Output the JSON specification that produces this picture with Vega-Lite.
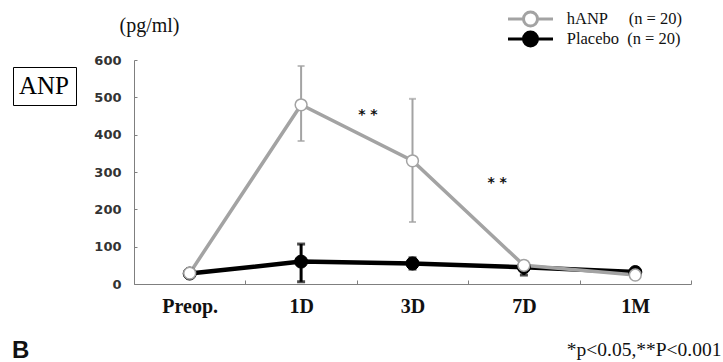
{
  "$schema": "https://vega.github.io/schema/vega-lite/v6.json",
  "width": 557,
  "height": 224,
  "autosize": {"type": "none"},
  "padding": {"left": 134, "top": 60, "right": 32, "bottom": 78},
  "background": "white",
  "config": {"view": {"stroke": null}, "axis": {"grid": false}},
  "title": {"text": "B", "orient": "bottom", "anchor": "start", "frame": "group", "font": "Liberation Sans", "fontWeight": "bold", "fontSize": 24, "color": "#111", "dx": -122, "dy": -1, "offset": 0, "baseline": "alphabetic"},
  "data": {"values": [
    {"t": "Preop.", "g": "hANP", "m": 29, "lo": null, "hi": null},
    {"t": "1D", "g": "hANP", "m": 480, "lo": 383, "hi": 584},
    {"t": "3D", "g": "hANP", "m": 330, "lo": 166, "hi": 496},
    {"t": "7D", "g": "hANP", "m": 50, "lo": null, "hi": null},
    {"t": "1M", "g": "hANP", "m": 24, "lo": null, "hi": null},
    {"t": "Preop.", "g": "Placebo", "m": 28, "lo": null, "hi": null},
    {"t": "1D", "g": "Placebo", "m": 60, "lo": 6, "hi": 107},
    {"t": "3D", "g": "Placebo", "m": 55, "lo": 40, "hi": 70},
    {"t": "7D", "g": "Placebo", "m": 45, "lo": 24, "hi": 58},
    {"t": "1M", "g": "Placebo", "m": 32, "lo": null, "hi": null}
  ]},
  "encoding": {
    "x": {
      "field": "t", "type": "nominal",
      "sort": ["Preop.", "1D", "3D", "7D", "1M"],
      "scale": {"paddingInner": 0, "paddingOuter": 0},
      "axis": {
        "labelAngle": 0, "labelFont": "Liberation Serif", "labelFontWeight": "bold", "labelFontSize": 20, "labelColor": "#111",
        "labelBaseline": "alphabetic", "labelPadding": 32,
        "tickBand": "extent", "tickSize": -4, "tickColor": "#7f7f7f", "domainColor": "#7f7f7f",
        "title": "*p<0.05,**P<0.001", "titleFont": "Liberation Serif", "titleFontWeight": "normal", "titleFontSize": 19.5, "titleColor": "#111",
        "titleAnchor": "end", "titleAlign": "right", "titleBaseline": "alphabetic", "titleX": 587, "titleY": 71
      }
    },
    "y": {
      "field": "m", "type": "quantitative",
      "scale": {"domain": [0, 600], "nice": false},
      "axis": {
        "values": [0, 100, 200, 300, 400, 500, 600],
        "labelFont": "DejaVu Sans", "labelFontWeight": "bold", "labelFontSize": 13, "labelColor": "#333", "labelPadding": 16,
        "tickSize": -3, "tickColor": "#7f7f7f", "domainColor": "#7f7f7f",
        "title": "(pg/ml)", "titleAngle": 0, "titleFont": "Liberation Serif", "titleFontWeight": "normal", "titleFontSize": 20, "titleColor": "#111",
        "titleAlign": "center", "titleBaseline": "alphabetic", "titleX": 15, "titleY": -29
      }
    }
  },
  "layer": [
    {
      "transform": [{"filter": "datum.g == 'Placebo'"}],
      "mark": {"type": "line", "strokeWidth": 4.5},
      "encoding": {
        "stroke": {"field": "g", "type": "nominal", "scale": {"domain": ["hANP", "Placebo"], "range": ["#a3a3a3", "#000000"]},
          "legend": {"title": null, "orient": "none", "legendX": 374, "legendY": -51, "padding": 0, "rowPadding": 0, "clipHeight": 20,
            "symbolType": "M-4.5,0H-1.4M1.4,0H4.5M-1.4,0C-1.4,-0.7732 -0.7732,-1.4 0,-1.4C0.7732,-1.4 1.4,-0.7732 1.4,0C1.4,0.7732 0.7732,1.4 0,1.4C-0.7732,1.4 -1.4,0.7732 -1.4,0Z",
            "symbolSize": 100, "symbolStrokeWidth": 3, "symbolOffset": 14.25, "labelOffset": 28, "labelFont": "Liberation Serif", "labelFontSize": 16.5, "labelColor": "#111",
            "labelExpr": "datum.label == 'hANP' ? 'hANP\u00a0\u00a0\u00a0\u00a0\u00a0(n = 20)' : 'Placebo\u00a0\u00a0(n = 20)'"}}
      }
    },
    {
      "transform": [{"filter": "datum.g == 'hANP'"}],
      "mark": {"type": "line", "strokeWidth": 3.5},
      "encoding": {"stroke": {"field": "g", "type": "nominal"}}
    },
    {
      "transform": [{"filter": "datum.g == 'Placebo' && datum.lo != null"}],
      "mark": {"type": "rule", "strokeWidth": 3, "color": "#000"},
      "encoding": {"y": {"field": "lo", "type": "quantitative"}, "y2": {"field": "hi"}}
    },
    {
      "transform": [{"filter": "datum.g == 'Placebo' && datum.lo != null"}, {"fold": ["lo", "hi"], "as": ["k", "v"]}],
      "mark": {"type": "tick", "orient": "horizontal", "size": 8, "thickness": 3, "color": "#000"},
      "encoding": {"y": {"field": "v", "type": "quantitative"}}
    },
    {
      "transform": [{"filter": "datum.g == 'hANP' && datum.lo != null"}],
      "mark": {"type": "rule", "strokeWidth": 2, "color": "#a3a3a3"},
      "encoding": {"y": {"field": "lo", "type": "quantitative"}, "y2": {"field": "hi"}}
    },
    {
      "transform": [{"filter": "datum.g == 'hANP' && datum.lo != null"}, {"fold": ["lo", "hi"], "as": ["k", "v"]}],
      "mark": {"type": "tick", "orient": "horizontal", "size": 7, "thickness": 2, "color": "#a3a3a3"},
      "encoding": {"y": {"field": "v", "type": "quantitative"}}
    },
    {
      "transform": [{"filter": "datum.g == 'Placebo'"}],
      "mark": {"type": "point", "filled": true, "size": 170, "strokeWidth": 1, "opacity": 1},
      "encoding": {
        "fill": {"field": "g", "type": "nominal", "scale": {"domain": ["hANP", "Placebo"], "range": ["#ffffff", "#000000"]}},
        "stroke": {"field": "g", "type": "nominal"}
      }
    },
    {
      "transform": [{"filter": "datum.g == 'hANP'"}],
      "mark": {"type": "point", "filled": true, "size": 140, "strokeWidth": 1.5, "opacity": 1},
      "encoding": {
        "fill": {"field": "g", "type": "nominal"},
        "stroke": {"field": "g", "type": "nominal"}
      }
    },
    {
      "data": {"values": [{"t": "3D", "v": 463, "s": "* *"}]},
      "mark": {"type": "text", "font": "DejaVu Sans", "fontWeight": "bold", "fontSize": 14, "align": "center", "baseline": "middle", "dy": 4, "color": "#111"},
      "encoding": {"x": {"field": "t", "type": "nominal", "bandPosition": 0.1}, "y": {"field": "v", "type": "quantitative"}, "text": {"field": "s"}}
    },
    {
      "data": {"values": [{"t": "7D", "v": 281, "s": "* *"}]},
      "mark": {"type": "text", "font": "DejaVu Sans", "fontWeight": "bold", "fontSize": 14, "align": "center", "baseline": "middle", "dy": 4, "color": "#111"},
      "encoding": {"x": {"field": "t", "type": "nominal", "bandPosition": 0.26}, "y": {"field": "v", "type": "quantitative"}, "text": {"field": "s"}}
    },
    {
      "data": {"values": [{"box": "ANP", "t": "Preop.", "m": 0}]},
      "mark": {"type": "point", "opacity": 0},
      "encoding": {
        "shape": {"field": "box", "type": "nominal",
          "legend": {"title": null, "orient": "none", "legendX": -121, "legendY": 7, "padding": 6, "strokeColor": "#000",
            "symbolSize": 0, "symbolOpacity": 0, "symbolStrokeWidth": 0, "labelOffset": -25,
            "labelFont": "Liberation Serif", "labelFontSize": 25, "labelColor": "#000"}}
      }
    }
  ]
}
